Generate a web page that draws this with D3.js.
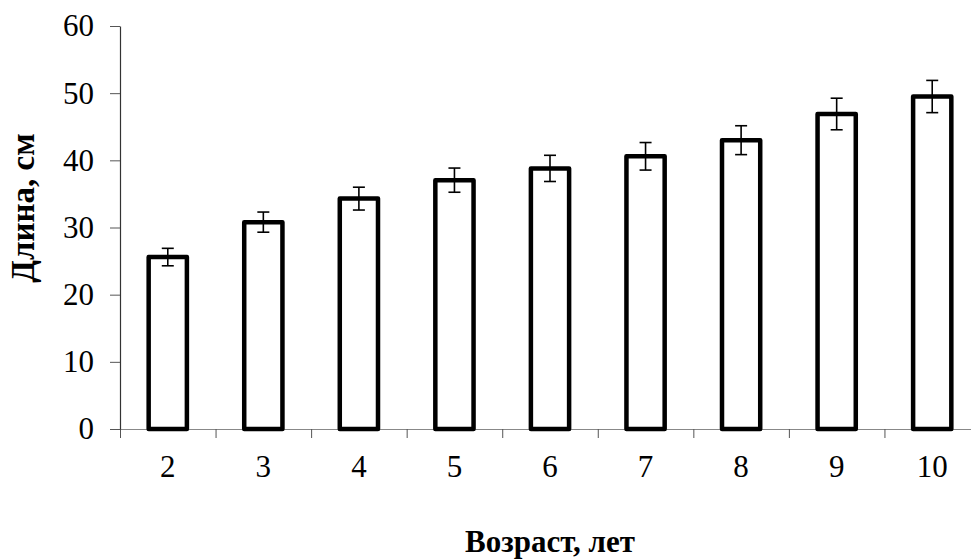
<!DOCTYPE html>
<html>
<head>
<meta charset="utf-8">
<script src="https://cdn.jsdelivr.net/npm/d3@7"></script>
<style>
  html, body { margin: 0; padding: 0; background: #fff; }
  svg { display: block; }
  text { font-family: "Liberation Serif", "Times New Roman", serif; fill: #000; }
</style>
</head>
<body>
<svg id="chart" width="971" height="560"></svg>
<script>
// Age groups (years) and mean body length (cm) with error margins
const ages = ["2", "3", "4", "5", "6", "7", "8", "9", "10"];
const lengths = [25.6, 30.8, 34.3, 37.05, 38.8, 40.6, 43.0, 46.9, 49.5];
const errors = [1.3, 1.5, 1.7, 1.8, 1.95, 2.05, 2.15, 2.35, 2.4];
const yTicks = [0, 10, 20, 30, 40, 50, 60];

const svg = d3.select("#chart");
const plotLeft = 120, plotRight = 980, plotTop = 26, plotBottom = 429;

const x = d3.scaleBand().domain(ages).range([plotLeft, plotRight]).padding(0);
const xEdge = d3.scaleLinear().domain([0, ages.length]).range([plotLeft, plotRight]);
const y = d3.scaleLinear().domain([0, 60]).range([plotBottom, plotTop]);

// x axis: baseline with tick marks between categories
const xAxisG = svg.append("g")
  .attr("transform", `translate(0,${plotBottom})`)
  .call(d3.axisBottom(xEdge).tickValues(d3.range(0, ages.length + 1))
    .tickSize(9).tickSizeOuter(0).tickFormat(""));
xAxisG.select(".domain").attr("stroke", "#888").attr("stroke-width", 1.2);
xAxisG.selectAll(".tick line").attr("stroke", "#555").attr("stroke-width", 1);

// category labels centred under each bar
const xLab = svg.append("g")
  .attr("transform", `translate(0,${plotBottom})`)
  .call(d3.axisBottom(x).tickSize(0).tickPadding(26));
xLab.select(".domain").remove();
xLab.selectAll("text").attr("font-size", 31).attr("font-family", "Liberation Serif");

// y axis
const yAxisG = svg.append("g")
  .attr("transform", `translate(${plotLeft},0)`)
  .call(d3.axisLeft(y).tickValues(yTicks).tickSize(10).tickSizeOuter(0).tickPadding(16));
yAxisG.select(".domain").attr("stroke", "#333").attr("stroke-width", 1.2);
yAxisG.selectAll(".tick line").attr("stroke", "#555");
yAxisG.selectAll("text").attr("font-size", 31).attr("font-family", "Liberation Serif");

// bars
const barW = x.bandwidth() * 0.4;
svg.append("g").selectAll("rect")
  .data(ages)
  .join("rect")
  .attr("x", (d) => x(d) + x.bandwidth() / 2 - barW / 2)
  .attr("y", (d, i) => y(lengths[i]))
  .attr("width", barW)
  .attr("height", (d, i) => y(0) - y(lengths[i]))
  .attr("fill", "#fff")
  .attr("stroke", "#000")
  .attr("stroke-width", 4.5)
  .attr("stroke-linejoin", "round");

// error bars
const cap = 6;
const eb = svg.append("g").attr("stroke", "#000").attr("stroke-width", 1.6);
ages.forEach((d, i) => {
  const cx = x(d) + x.bandwidth() / 2;
  const hi = y(lengths[i] + errors[i]), lo = y(lengths[i] - errors[i]);
  eb.append("line").attr("x1", cx).attr("x2", cx).attr("y1", hi).attr("y2", lo);
  eb.append("line").attr("x1", cx - cap).attr("x2", cx + cap).attr("y1", hi).attr("y2", hi);
  eb.append("line").attr("x1", cx - cap).attr("x2", cx + cap).attr("y1", lo).attr("y2", lo);
});

// axis titles
svg.append("text")
  .attr("x", 550).attr("y", 552)
  .attr("text-anchor", "middle")
  .attr("font-size", 31).attr("font-weight", "bold")
  .text("Возраст, лет");

svg.append("text")
  .attr("transform", "translate(34,208) rotate(-90)")
  .attr("text-anchor", "middle")
  .attr("font-size", 33).attr("font-weight", "bold")
  .text("Длина, см");
</script>
</body>
</html>
